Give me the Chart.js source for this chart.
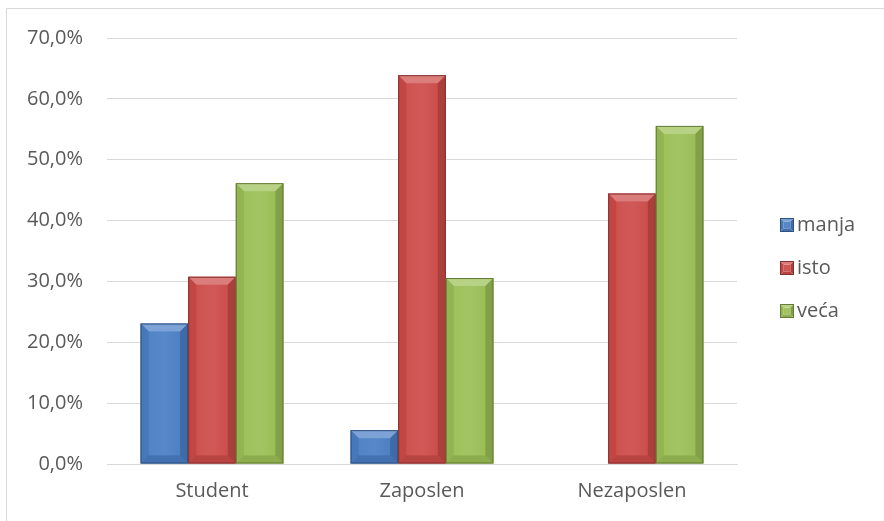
<!DOCTYPE html>
<html>
<head>
<meta charset="utf-8">
<script src="https://cdn.jsdelivr.net/npm/chart.js@4/dist/chart.umd.min.js"></script>
<style>
  html, body { margin: 0; padding: 0; background: #ffffff; }
  #wrap { position: relative; width: 884px; height: 521px; }
  canvas { display: block; }
</style>
</head>
<body>
<div id="wrap"><canvas id="c" width="884" height="521"></canvas></div>
<script>
const categories = ["Student", "Zaposlen", "Nezaposlen"];
const seriesNames = ["manja", "isto", "veća"];
const manja = [23.08, 5.56, 0];
const isto = [30.77, 63.89, 44.44];
const veca = [46.15, 30.56, 55.56];
const yTicks = [0, 10, 20, 30, 40, 50, 60, 70];
const colors = ["#4a7ec4", "#cc4b48", "#9bbf55"];

const fontFamily = "'Open Sans', 'Noto Sans', 'Liberation Sans', sans-serif";

function shade(hex, amt) {
  const n = parseInt(hex.slice(1), 16);
  let r = (n >> 16) & 255, g = (n >> 8) & 255, b = n & 255;
  if (amt >= 0) { r += (255 - r) * amt; g += (255 - g) * amt; b += (255 - b) * amt; }
  else { r *= (1 + amt); g *= (1 + amt); b *= (1 + amt); }
  return `rgb(${Math.round(r)},${Math.round(g)},${Math.round(b)})`;
}

function drawBevel(ctx, l, t, r, bt, base, bMax) {
  const h = bt - t;
  const b = Math.min(bMax, h / 2, (r - l) / 4);
  const g = ctx.createLinearGradient(l, 0, r, 0);
  g.addColorStop(0, shade(base, 0.02));
  g.addColorStop(0.5, shade(base, 0.08));
  g.addColorStop(1, shade(base, -0.02));
  ctx.fillStyle = g;
  ctx.fillRect(l + b, t + b, r - l - 2 * b, h - 2 * b);
  ctx.beginPath();
  ctx.moveTo(l, t); ctx.lineTo(r, t); ctx.lineTo(r - b, t + b); ctx.lineTo(l + b, t + b); ctx.closePath();
  ctx.fillStyle = shade(base, 0.28);
  ctx.fill();
  ctx.beginPath();
  ctx.moveTo(l, t); ctx.lineTo(l + b, t + b); ctx.lineTo(l + b, bt - b); ctx.lineTo(l, bt); ctx.closePath();
  ctx.fillStyle = shade(base, -0.05);
  ctx.fill();
  ctx.beginPath();
  ctx.moveTo(r, t); ctx.lineTo(r - b, t + b); ctx.lineTo(r - b, bt - b); ctx.lineTo(r, bt); ctx.closePath();
  ctx.fillStyle = shade(base, -0.16);
  ctx.fill();
  ctx.beginPath();
  ctx.moveTo(l, bt); ctx.lineTo(l + b, bt - b); ctx.lineTo(r - b, bt - b); ctx.lineTo(r, bt); ctx.closePath();
  ctx.fillStyle = shade(base, -0.1);
  ctx.fill();
  ctx.strokeStyle = shade(base, -0.35);
  ctx.lineWidth = 1;
  ctx.strokeRect(l + 0.5, t + 0.5, r - l - 1, h - 1);
}

const bevelPlugin = {
  id: 'bevel',
  afterDatasetsDraw(chart) {
    const ctx = chart.ctx;
    chart.data.datasets.forEach((ds, di) => {
      const meta = chart.getDatasetMeta(di);
      meta.data.forEach(bar => {
        const p = bar.getProps(['x', 'y', 'base', 'width'], true);
        const l = p.x - p.width / 2, r = p.x + p.width / 2;
        const t = Math.min(p.y, p.base), bt = Math.max(p.y, p.base);
        if (bt - t < 1) return;
        ctx.save();
        drawBevel(ctx, l, t, r, bt, colors[di], 8);
        ctx.restore();
      });
    });
  }
};

const framePlugin = {
  id: 'frame',
  beforeDraw(chart) {
    const ctx = chart.ctx;
    ctx.save();
    ctx.fillStyle = '#ffffff';
    ctx.fillRect(0, 0, chart.width, chart.height);
    ctx.strokeStyle = '#d9d9d9';
    ctx.lineWidth = 1;
    ctx.beginPath();
    ctx.moveTo(6.5, chart.height);
    ctx.lineTo(6.5, 8.5);
    ctx.lineTo(chart.width, 8.5);
    ctx.stroke();
    ctx.restore();
  },
  afterDraw(chart) {
    const ctx = chart.ctx;
    ctx.save();
    ctx.font = "20px " + fontFamily;
    ctx.textBaseline = 'middle';
    chart.data.datasets.forEach((ds, i) => {
      const y = 225 + i * 43;
      const x = 780;
      const s = 14;
      ctx.save();
      drawBevel(ctx, x, y - s / 2, x + s, y + s / 2, colors[i], 4);
      ctx.restore();
      ctx.fillStyle = '#595959';
      ctx.fillText(ds.label, x + s + 3, y);
    });
    ctx.restore();
  }
};

new Chart(document.getElementById('c'), {
  type: 'bar',
  data: {
    labels: categories,
    datasets: [
      { label: seriesNames[0], data: manja, backgroundColor: colors[0] },
      { label: seriesNames[1], data: isto, backgroundColor: colors[1] },
      { label: seriesNames[2], data: veca, backgroundColor: colors[2] }
    ]
  },
  options: {
    responsive: false,
    animation: false,
    devicePixelRatio: 1,
    layout: { padding: { left: 0, right: 147, top: 38, bottom: 0 } },
    datasets: { bar: { categoryPercentage: 0.68, barPercentage: 1.0, borderWidth: 0 } },
    plugins: {
      legend: { display: false },
      tooltip: { enabled: false }
    },
    scales: {
      x: {
        grid: { display: false, drawTicks: false },
        border: { display: true, color: '#d9d9d9', width: 1 },
        ticks: { color: '#595959', font: { family: fontFamily, size: 20 }, padding: 15 },
        afterFit(scale) { scale.height = 57; }
      },
      y: {
        min: 0, max: 70,
        afterBuildTicks(scale) { scale.ticks = yTicks.map(v => ({ value: v })); },
        grid: { color: '#d9d9d9', drawTicks: false },
        border: { display: false },
        ticks: {
          color: '#595959', font: { family: fontFamily, size: 20 }, padding: 24,
          callback: v => v.toFixed(1).replace('.', ',') + '%'
        },
        afterFit(scale) { scale.width = 107; }
      }
    }
  },
  plugins: [framePlugin, bevelPlugin]
});
</script>
</body>
</html>
